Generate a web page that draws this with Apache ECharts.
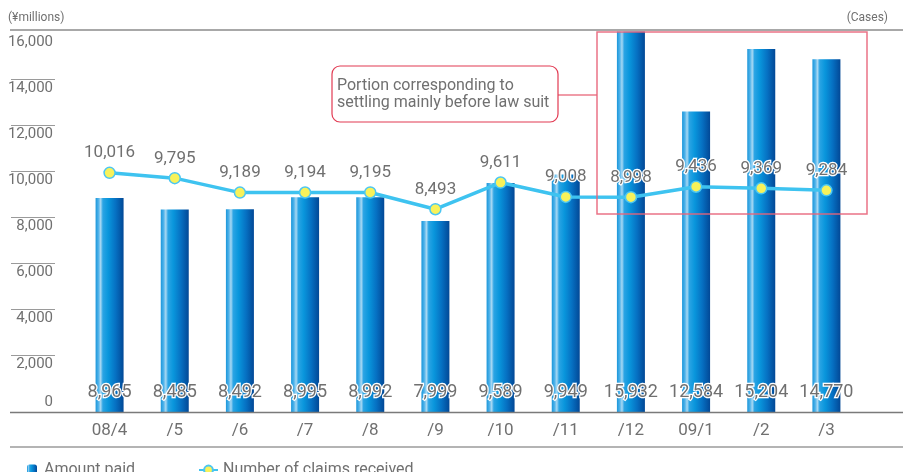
<!DOCTYPE html>
<html>
<head>
<meta charset="utf-8">
<script src="https://cdn.jsdelivr.net/npm/echarts@6/dist/echarts.min.js"></script>
<style>
html,body{margin:0;padding:0;background:#fff;}
#chart{width:903px;height:472px;}
</style>
</head>
<body>
<div id="chart"></div>
<script>
var categories = ['08/4','/5','/6','/7','/8','/9','/10','/11','/12','09/1','/2','/3'];
var amountPaid = [8965, 8485, 8492, 8995, 8992, 7999, 9589, 9949, 15932, 12584, 15204, 14770];
var claimsReceived = [10016, 9795, 9189, 9194, 9195, 8493, 9611, 9008, 8998, 9436, 9369, 9284];
var tickValues = [2000, 4000, 6000, 8000, 10000, 12000, 14000];
var labelValues = [0, 2000, 4000, 6000, 8000, 10000, 12000, 14000, 16000];

var FONT = 'Roboto';
var GRAY = '#707070';

var chart = echarts.init(document.getElementById('chart'), null, {renderer: 'canvas'});

var barGradient = new echarts.graphic.LinearGradient(0, 0, 1, 0, [
  {offset: 0, color: '#1a96da'},
  {offset: 0.1, color: '#4db2ea'},
  {offset: 0.18, color: '#a8d8f3'},
  {offset: 0.26, color: '#2aa4e4'},
  {offset: 0.45, color: '#0996dc'},
  {offset: 0.72, color: '#0670c2'},
  {offset: 1, color: '#024896'}
]);

var option = {
  animation: false,
  textStyle: {fontFamily: FONT},
  grid: {left: 77, right: 44, top: 30, bottom: 60, containLabel: false},
  legend: [
    {
      data: ['Amount paid'], left: 22, top: 457, itemWidth: 10, itemHeight: 11,
      textStyle: {fontFamily: FONT, fontSize: 16, color: GRAY, padding: [0, 0, 0, 2]}
    },
    {
      data: ['Number of claims received'], left: 193, top: 457, itemWidth: 19, itemHeight: 11,
      textStyle: {fontFamily: FONT, fontSize: 16, color: GRAY}
    }
  ],
  xAxis: {
    type: 'category',
    data: categories,
    axisLine: {show: false},
    axisTick: {show: false},
    axisLabel: {fontFamily: FONT, fontSize: 17, color: GRAY, margin: 10}
  },
  yAxis: [
    {
      type: 'value', min: 0, max: 16000, interval: 2000, position: 'left',
      axisLine: {show: false}, axisTick: {show: false}, axisLabel: {show: false},
      splitLine: {show: false}
    },
    {
      type: 'value', min: 0, max: 16000, interval: 2000, position: 'right',
      axisLine: {show: false}, axisTick: {show: false}, axisLabel: {show: false},
      splitLine: {show: false}
    },
    {
      type: 'value', min: -465, max: 16144, position: 'left', offset: 22,
      axisLine: {show: false},
      splitLine: {show: false},
      axisTick: {show: true, length: 44, customValues: tickValues, lineStyle: {color: '#9a9a9a', width: 1}},
      axisLabel: {
        show: true, customValues: labelValues, align: 'right', margin: 2,
        formatter: function (v) {
          var s = echarts.format.addCommas(v);
          return Number(v) === 0 ? '{z|' + s + '}' : '{n|' + s + '}';
        },
        rich: {
          n: {fontFamily: FONT, fontSize: 15, color: GRAY, padding: [18, 0, 0, 0]},
          z: {fontFamily: FONT, fontSize: 15, color: GRAY, padding: [2, 0, 0, 0]}
        }
      }
    }
  ],
  series: [
    {
      name: 'Amount paid',
      type: 'bar',
      data: amountPaid,
      yAxisIndex: 0,
      barWidth: 28,
      itemStyle: {color: barGradient},
      label: {
        show: true, position: 'insideBottom', distance: 11,
        fontFamily: FONT, fontSize: 18, color: GRAY,
        textBorderColor: '#ffffff', textBorderWidth: 2.5,
        formatter: function (p) { return echarts.format.addCommas(p.value); }
      },
      z: 2
    },
    {
      name: 'Number of claims received',
      type: 'line',
      data: claimsReceived,
      yAxisIndex: 1,
      symbol: 'circle',
      symbolSize: 11,
      lineStyle: {color: '#3ec3f0', width: 3.5},
      itemStyle: {color: '#f8f25a', borderColor: '#4cc6f2', borderWidth: 1.5},
      label: {
        show: true, position: 'top', distance: 5,
        fontFamily: FONT, fontSize: 17, color: GRAY,
        textBorderColor: '#ffffff', textBorderWidth: 2.5,
        formatter: function (p) { return echarts.format.addCommas(p.value); }
      },
      z: 3
    }
  ],
  graphic: [
    {type: 'line', shape: {x1: 10, y1: 30, x2: 903, y2: 30}, style: {stroke: '#a8a8a8', lineWidth: 2}, z: 1},
    {type: 'line', shape: {x1: 10, y1: 412.5, x2: 903, y2: 412.5}, style: {stroke: '#7a7a7a', lineWidth: 1.5}, z: 5},
    {type: 'line', shape: {x1: 10, y1: 447, x2: 903, y2: 447}, style: {stroke: '#b4b4b4', lineWidth: 2}, z: 1},
    {type: 'text', left: 8, top: 12, style: {text: '(¥millions)', font: '12px ' + FONT, fill: GRAY}},
    {type: 'text', right: 15, top: 12, style: {text: '(Cases)', font: '12px ' + FONT, fill: GRAY}},
    {type: 'rect', shape: {x: 332, y: 66, width: 226, height: 56, r: 8},
      style: {fill: '#ffffff', stroke: '#e23a52', lineWidth: 1.2}, z: 10},
    {type: 'text', x: 337, y: 77,
      style: {text: 'Portion corresponding to\nsettling mainly before law suit', font: '16px ' + FONT, fill: GRAY, lineHeight: 17}, z: 11},
    {type: 'line', shape: {x1: 558, y1: 95, x2: 597, y2: 95}, style: {stroke: '#e23a52', lineWidth: 1.2}, z: 10},
    {type: 'rect', shape: {x: 597, y: 32, width: 270, height: 182},
      style: {fill: 'none', stroke: '#e8637a', lineWidth: 1.5, opacity: 0.9}, z: 10}
  ]
};

chart.setOption(option);
</script>
</body>
</html>
